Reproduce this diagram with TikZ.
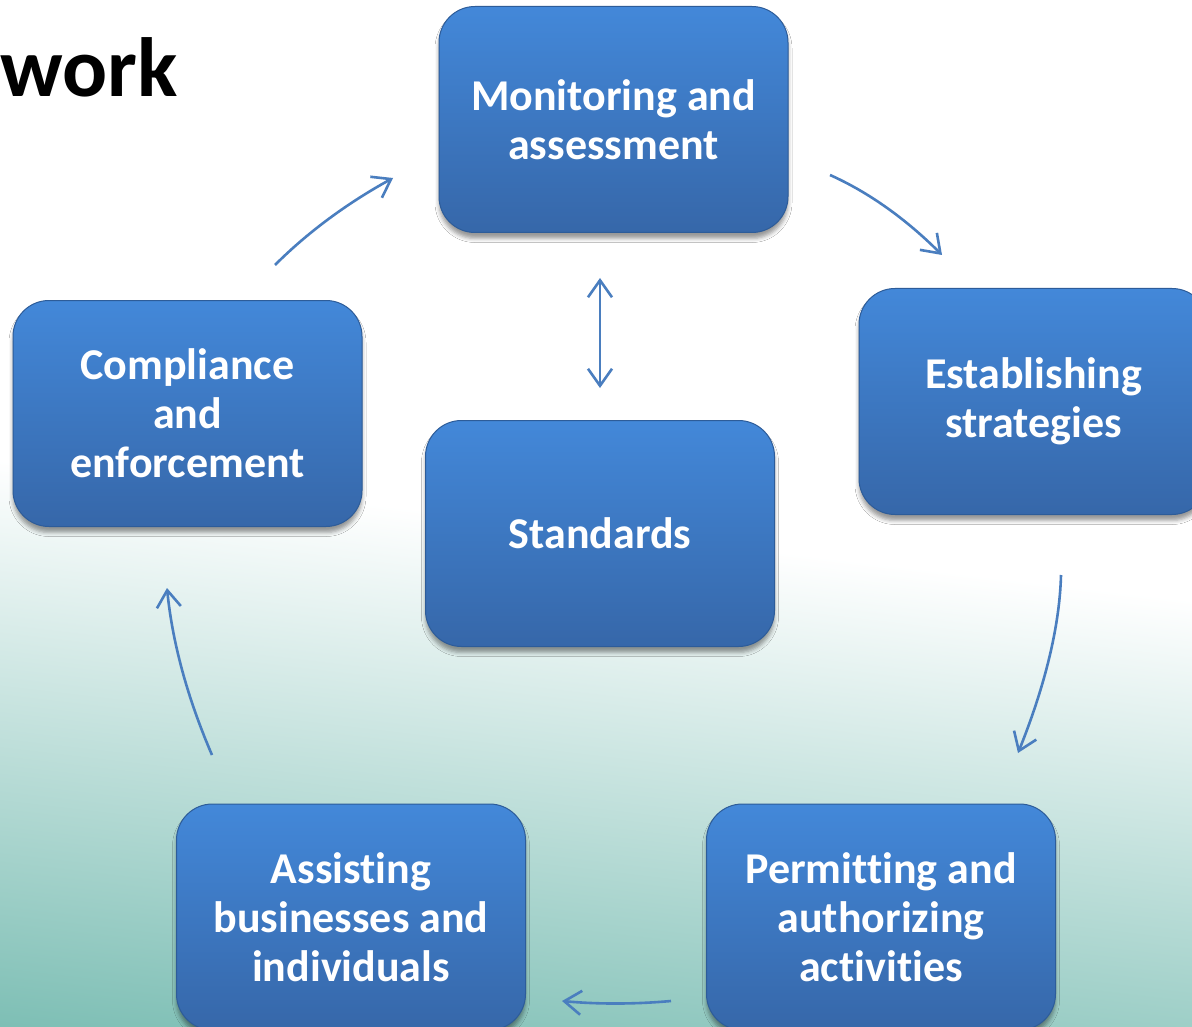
\documentclass[tikz,border=0pt]{standalone}
\usepackage{fontspec}
\setmainfont{Carlito}[Ligatures={NoCommon, NoContextual}]
\usetikzlibrary{arrows.meta, shadows.blur}
\definecolor{boxtop}{HTML}{4388D9}
\definecolor{boxbottom}{HTML}{3667A9}
\definecolor{boxedge}{HTML}{2D5C99}
\definecolor{cyclearrow}{HTML}{4A7EBF}
\definecolor{bgteal}{HTML}{7EBFB5}
\pgfdeclareverticalshading{bgwave}{100bp}{color(0bp)=(bgteal); color(31.9bp)=(bgteal); color(49.5bp)=(white); color(100bp)=(white)}

\begin{document}
\begin{tikzpicture}[
		x=1pt, y=-1pt,
		texts/.style = {text=white, font=\fontsize{44}{49}\selectfont\bfseries},
		stagebox/.style = {texts, rectangle, rounded corners=36pt, align=center,
			minimum width=349pt, minimum height=226pt, inner sep=0pt,
			top color=boxtop, bottom color=boxbottom, draw=boxedge, line width=1pt,
			blur shadow={shadow xshift=0pt, shadow yshift=-6pt, shadow blur radius=4pt, shadow opacity=40}},
		flow/.style = {draw=cyclearrow, line width=2.6pt, -{Straight Barb[length=17pt, width=24pt]}},
		]
		\useasboundingbox (0,0) rectangle (1192,1027);
		% background
		\begin{scope}
			\clip (0,0) rectangle (1192,1027);
			\shade[shading=bgwave, shading angle=-6.7] (-204,-286.5) rectangle (1396,1313.5);
		\end{scope}
		
		\node[anchor=base east, inner sep=0pt, font=\fontsize{84}{100}\selectfont\bfseries] (title) at (178,97) {work};
		
		\node[stagebox] (monitor) at (613.5,119.5) {Monitoring and\\assessment};
		\node[stagebox] (strategy) at (1033.5,401.5) {Establishing\\strategies};
		\node[stagebox] (permit) at (881,917) {Permitting and\\authorizing\\activities};
		\node[stagebox] (assist) at (351,917) {Assisting\\businesses and\\individuals};
		\node[stagebox] (comply) at (187.5,413.5) {Compliance\\and\\enforcement};
		\node[stagebox] (standard) at (600,533.5) {Standards};
		
		% arrow ends in the gaps between the boxes
		\coordinate (comply out) at (275,265);
		\coordinate (monitor in) at (393,178);
		\coordinate (monitor out) at (830,175);
		\coordinate (strategy in) at (942,255);
		\coordinate (strategy out) at (1061,575);
		\coordinate (permit in) at (1018,753);
		\coordinate (permit out) at (671,1001);
		\coordinate (assist in) at (562,1001);
		\coordinate (assist out) at (212,755);
		\coordinate (comply in) at (167,588);
		\coordinate (monitor low) at (600,278);
		\coordinate (standard top) at (600,388);
		
		\draw[flow] (comply out) .. controls (307.7,232.3) and (347,203.3) .. (monitor in);
		\draw[flow] (monitor out) .. controls (868.7,192.3) and (906,219) .. (strategy in);
		\draw[flow] (strategy out) .. controls (1059.7,625.7) and (1045.3,685) .. (permit in);
		\draw[flow] (permit out) .. controls (634.3,1004.3) and (598,1004.3) .. (assist in);
		\draw[flow] (assist out) .. controls (187.3,697.7) and (172.3,642) .. (comply in);
		\draw[flow, {Straight Barb[length=17pt, width=24pt]}-{Straight Barb[length=17pt, width=24pt]}] (monitor low) -- (standard top);
\end{tikzpicture}
\end{document}
